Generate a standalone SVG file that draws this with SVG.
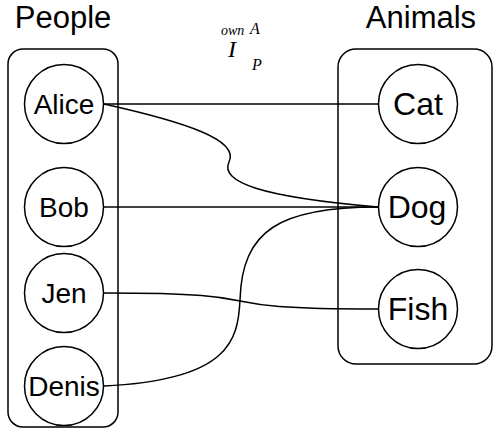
<svg xmlns="http://www.w3.org/2000/svg" width="493" height="434" viewBox="0 0 493 434">
  <style>
    .group { fill: none; stroke: #000; stroke-width: 1.5; }
    .node circle { fill: #fff; stroke: #000; stroke-width: 1.5; }
    .title { font-family: "Liberation Sans", Arial, sans-serif; font-size: 31px; text-anchor: middle; fill: #000; }
    .person { font-family: "Liberation Sans", Arial, sans-serif; font-size: 28px; text-anchor: middle; fill: #000; }
    .animal { font-family: "Liberation Sans", Arial, sans-serif; font-size: 32px; text-anchor: middle; fill: #000; }
    .math { font-family: "Liberation Serif", "Times New Roman", serif; font-style: italic; fill: #000; }
    .edges path { fill: none; stroke: #000; stroke-width: 1.5; }
  </style>
  <rect width="493" height="434" fill="#fff"/>

  <!-- set containers -->
  <g id="people">
    <rect class="group" x="8" y="49" width="110" height="378" rx="15"/>
    <text class="title" x="63" y="28">People</text>
  </g>
  <g id="animals">
    <rect class="group" x="338" y="49" width="154" height="315" rx="18"/>
    <text class="title" x="421" y="28">Animals</text>
  </g>

  <!-- relation label -->
  <g id="relation-label">
    <text class="math" x="221" y="35" font-size="14">own</text>
    <text class="math" x="250" y="34" font-size="16">A</text>
    <text class="math" x="228" y="57" font-size="24">I</text>
    <text class="math" x="252" y="70" font-size="16">P</text>
  </g>

  <!-- ownership connectors -->
  <g id="edges" class="edges">
    <path d="M104,104 L378,104"/>
    <path d="M104,104 C185,122 240,140 229,162 C220,182 260,197 378,207"/>
    <path d="M104,207 L378,207"/>
    <path d="M104,293 C300,293 180,309 378,309"/>
    <path d="M104,386 C230,380 238,340 240,300 C242,230 280,207 378,207"/>
  </g>

  <!-- people -->
  <g id="alice" class="node">
    <circle cx="64" cy="104" r="39.5"/>
    <text class="person" x="64" y="114">Alice</text>
  </g>
  <g id="bob" class="node">
    <circle cx="64" cy="207" r="39.5"/>
    <text class="person" x="64" y="217">Bob</text>
  </g>
  <g id="jen" class="node">
    <circle cx="64" cy="293" r="39.5"/>
    <text class="person" x="64" y="303">Jen</text>
  </g>
  <g id="denis" class="node">
    <circle cx="64" cy="386" r="39.5"/>
    <text class="person" x="64" y="396">Denis</text>
  </g>

  <!-- animals -->
  <g id="cat" class="node">
    <circle cx="418" cy="104" r="39.5"/>
    <text class="animal" x="418" y="115">Cat</text>
  </g>
  <g id="dog" class="node">
    <circle cx="418" cy="207" r="39.5"/>
    <text class="animal" x="417" y="218">Dog</text>
  </g>
  <g id="fish" class="node">
    <circle cx="418" cy="309" r="39.5"/>
    <text class="animal" x="418" y="320">Fish</text>
  </g>
</svg>
